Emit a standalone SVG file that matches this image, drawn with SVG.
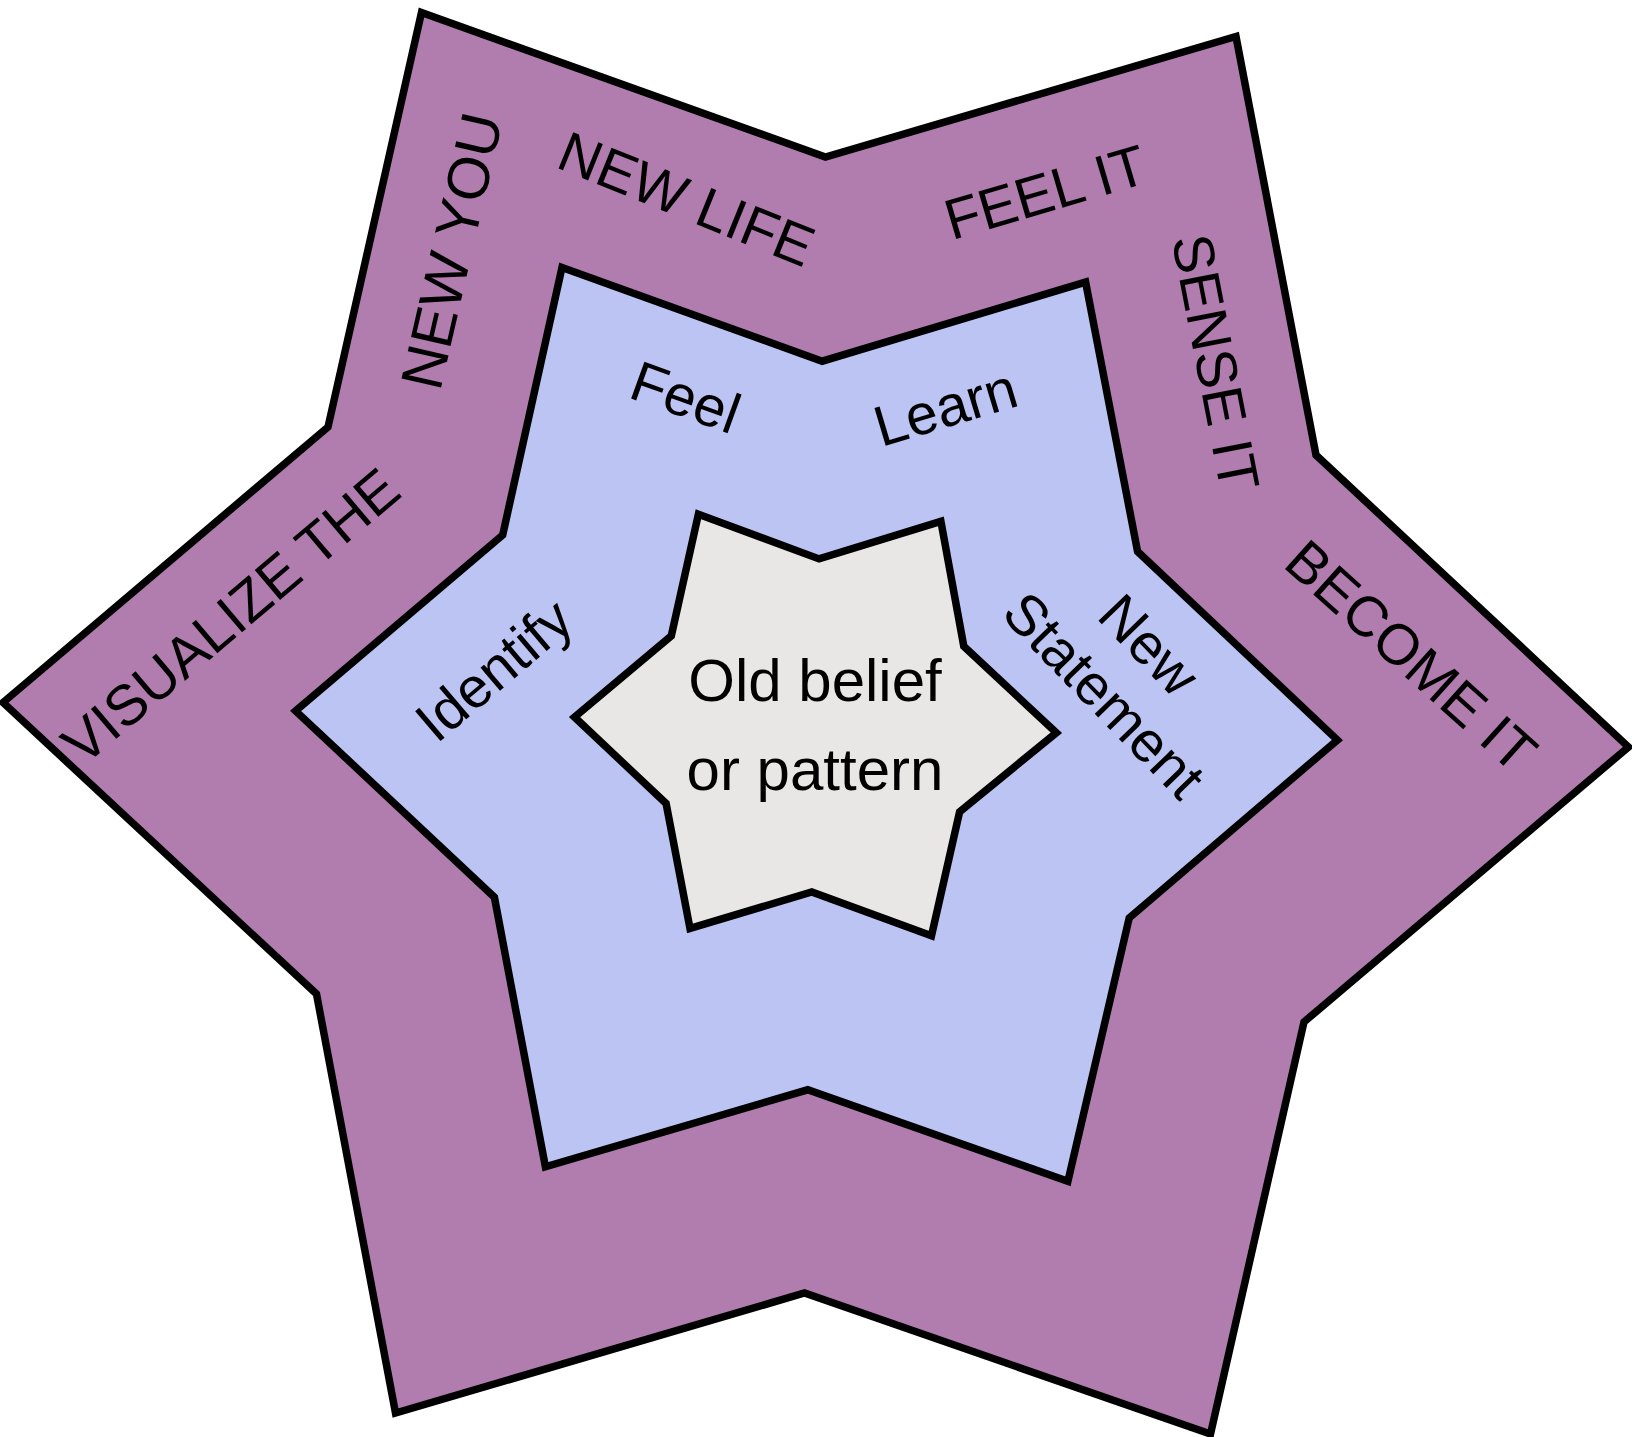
<svg xmlns="http://www.w3.org/2000/svg" width="1632" height="1437" viewBox="0 0 1632 1437">
<style>
.star{stroke:#000;stroke-width:7.5;stroke-linejoin:miter;stroke-miterlimit:10}
.t{font-family:"Liberation Sans",Arial,sans-serif;font-size:57px;fill:#000;text-anchor:middle}
.c{font-family:"Liberation Sans",Arial,sans-serif;font-size:60px;fill:#000;text-anchor:middle}
</style>
<rect width="1632" height="1437" fill="#fff"/>
<g id="outer">
<polygon class="star" fill="#B07DAE" points="421.5,12.5 825.4,157 1236,36.5 1316,455 1628.5,747 1304,1022 1210.5,1434 804.5,1293 395.5,1413 316.5,994 3,702.5 328,427"/>
<text class="t" transform="translate(451,250.8) rotate(-77)" x="0" y="21" style="font-size:59px">NEW YOU</text>
<text class="t" transform="translate(687,197.8) rotate(22)" x="0" y="21">NEW LIFE</text>
<text class="t" transform="translate(1045,191) rotate(-16.4)" x="0" y="21">FEEL IT</text>
<text class="t" transform="translate(1217,362.2) rotate(79)" x="0" y="21">SENSE IT</text>
<text class="t" transform="translate(1412,655) rotate(42)" x="0" y="21">BECOME IT</text>
<text class="t" transform="translate(230,615) rotate(-40.3)" x="0" y="21">VISUALIZE THE</text>
</g>
<g id="middle">
<polygon class="star" fill="#BBC4F2" points="562,267.5 822.2,361.2 1085.6,282.1 1137.6,551.6 1337.4,740 1129.2,918 1067.9,1181.3 807.7,1089.8 545.4,1166.8 494.4,897.2 295.6,710.9 502.7,535"/>
<text class="t" transform="translate(686,396) rotate(19.8)" x="0" y="21">Feel</text>
<text class="t" transform="translate(945,406) rotate(-16.7)" x="0" y="21">Learn</text>
<text class="t" transform="translate(493,669) rotate(-40.3)" x="0" y="21">Identify</text>
<text class="t" transform="translate(1150,644) rotate(46)" x="0" y="21">New</text>
<text class="t" transform="translate(1105,694) rotate(46)" x="0" y="21">Statement</text>
</g>
<g id="center">
<polygon class="star" fill="#E8E7E5" stroke-width="6.5" points="698.4,514.2 819.1,558.9 940.9,521.4 963.8,646.3 1056.4,732.7 959.6,811.8 931.5,935.7 811.8,892 690,928.4 666.1,803.5 574.5,717.1 671.3,635.9"/>
<text class="c" x="815" y="701">Old belief</text>
<text class="c" x="815" y="790">or pattern</text>
</g>
<g id="connectors"/>
</svg>
